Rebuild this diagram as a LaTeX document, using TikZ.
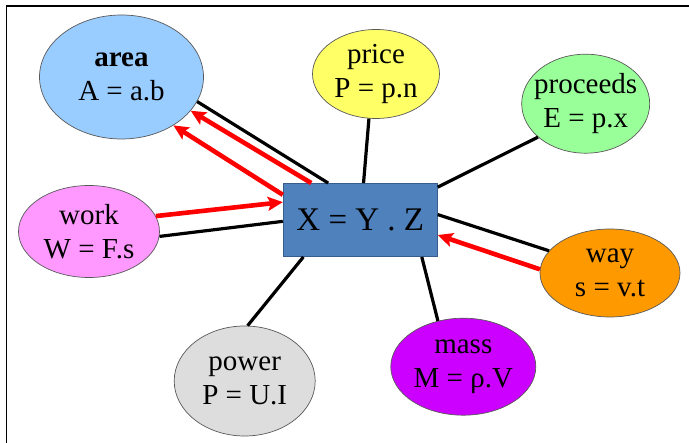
\documentclass[tikz,border=0pt]{standalone}
\usepackage{fontspec}
\setmainfont{Liberation Serif}
\usetikzlibrary{arrows.meta, shapes.geometric}
\definecolor{carea}{HTML}{99CCFF}
\definecolor{cprice}{HTML}{FFFF66}
\definecolor{cproceeds}{HTML}{99FF99}
\definecolor{cwork}{HTML}{FF99FF}
\definecolor{cway}{HTML}{FF9900}
\definecolor{cpower}{HTML}{DDDDDD}
\definecolor{cmass}{HTML}{CC00FF}
\definecolor{cbox}{HTML}{4F81BD}
\definecolor{cboxedge}{HTML}{385D8A}
\definecolor{cred}{HTML}{FF0000}
\tikzset{
  topic/.style={ellipse, draw=black!65, line width=0.7pt, fill=#1, inner sep=0pt},
  tag/.style={font=\fontsize{29}{34}\selectfont, align=center, inner sep=0pt},
  link/.style={draw=black, line width=3.2pt},
  push/.style={-{Stealth[length=15pt, width=14pt, inset=3pt]}, draw=cred, line width=4.6pt},
}

\begin{document}
\begin{tikzpicture}[x=1pt, y=1pt,
    core/.style={draw=cboxedge, line width=0.9pt, fill=cbox, minimum width=154pt, minimum height=73pt, font=\fontsize{33}{38}\selectfont},
    frame/.style={draw=black, line width=1.8pt},
  ]
  \useasboundingbox (0,0) rectangle (689,443);
  \draw[frame] (6.5,0) |- (689,437);

  % centre
  \node[core] (xyz) at (360.3,223) {X = Y . Z};

  % the formulas around it
  \node[topic=carea, minimum width=164pt, minimum height=124pt] (area) at (121.5,366) {};
  \node[tag] (areat) at (area) {\textbf{area}\\A = a.b};
  \node[topic=cprice, minimum width=127pt, minimum height=89pt] (price) at (376,369) {};
  \node[tag] (pricet) at (price) {price\\P = p.n};
  \node[topic=cproceeds, minimum width=128pt, minimum height=99pt] (proceeds) at (585.7,339.3) {};
  \node[tag] (proceedst) at (proceeds) {proceeds\\E = p.x};
  \node[topic=cwork, minimum width=141pt, minimum height=92pt] (work) at (89,211.5) {};
  \node[tag] (workt) at (work) {work\\W = F.s};
  \node[topic=cway, minimum width=140pt, minimum height=88pt] (way) at (610,170) {};
  \node[tag] (wayt) at (way) {way\\s = v.t};
  \node[topic=cpower, minimum width=141pt, minimum height=110pt] (power) at (244.7,62) {};
  \node[tag] (powert) at (power) {power\\P = U.I};
  \node[topic=cmass, minimum width=145pt, minimum height=97pt] (mass) at (463.3,76.3) {};
  \node[tag] (masst) at (mass) {mass\\M = ρ.V};

  % plain links
  \draw[link] (area.-18) -- (xyz.131);
  \draw[link] (price.-99) -- (xyz.85);
  \draw[link] (proceeds.-145) -- (xyz.23);
  \draw[link] (work.-4) -- (xyz.181);
  \draw[link] (way.160) -- (xyz.4);
  \draw[link] (power.87) -- (xyz.-147);
  \draw[link] (mass.119) -- (xyz.-31);

  % red arrows
  \draw[push] (xyz.143) -- (area.-26);
  \draw[push] (xyz.162) -- (area.-43);
  \draw[push] (work.13) -- (xyz.167);
  \draw[push] (way.177) -- (xyz.-11);
\end{tikzpicture}
\end{document}
